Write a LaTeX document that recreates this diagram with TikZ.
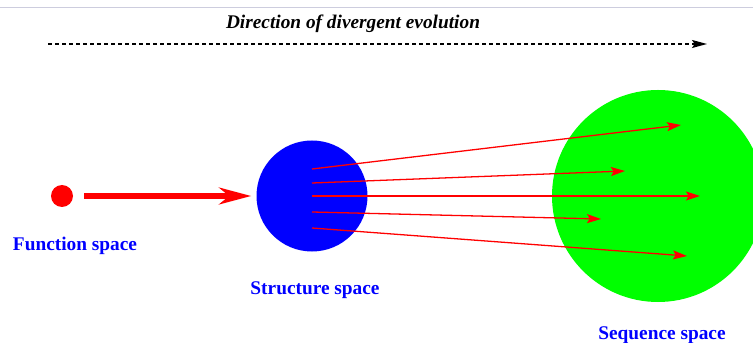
\documentclass[tikz,border=0pt]{standalone}
\usepackage{fontspec}
\setmainfont{Liberation Serif}
\usetikzlibrary{positioning,arrows.meta}
\definecolor{rulegrey}{RGB}{205,205,222}

\begin{document}
\begin{tikzpicture}[
    x=0.03cm, y=-0.03cm,
    space/.style={circle, inner sep=0pt, draw=none},
    spacelabel/.style={font=\fontsize{16.5}{18}\selectfont\bfseries, text=blue},
    bigarrow/.style={-{Stealth[length=0.96cm, width=0.5cm, inset=0.3cm]}, red, line width=4.7pt},
    ray/.style={-{Stealth[length=0.42cm, width=0.27cm, inset=0.08cm]}, red, line width=1.1pt},
    direction/.style={-{Stealth[length=0.45cm, width=0.24cm, inset=0.08cm]}, line width=1.2pt, dash pattern=on 0.12cm off 0.09cm}
]
\useasboundingbox (0,0) rectangle (753,343);

% frame line at the top
\coordinate (tl) at (0,7);
\coordinate (tr) at (753,7);
\draw[rulegrey, line width=0.8pt] (tl) -- (tr);

% Direction
\node[font=\fontsize{16.5}{18}\selectfont\bfseries\itshape] (title) at (353,24) {Direction of divergent evolution};
\coordinate (dstart) at (48,44);
\coordinate (dend) at (707,44);
\draw[direction] (dstart) -- (dend);

% Spaces
\node[space, fill=red, minimum size=0.66cm] (func) at (62,196) {};
\node[space, fill=blue, minimum size=3.33cm] (struct) at (312,196) {};
\node[space, fill=green, minimum size=6.36cm] (seq) at (658,196) {};

% Labels
\node[spacelabel] (funclabel) at (75,246) {Function space};
\node[spacelabel] (structlabel) at (315,290) {Structure space};
\node[spacelabel] (seqlabel) at (662,335) {Sequence space};

\draw[bigarrow, shorten <=0.33cm, shorten >=0.15cm] (func) -- (struct);

% Rays into sequence space
\foreach \i/\ys/\xe/\ye in {1/169/681/125, 2/183/625/171, 3/196/700/196, 4/212/601/219, 5/228/687/256} {
    \coordinate (s\i) at (312,\ys);
    \coordinate (e\i) at (\xe,\ye);
    \draw[ray] (s\i) -- (e\i);
}
\end{tikzpicture}
\end{document}
